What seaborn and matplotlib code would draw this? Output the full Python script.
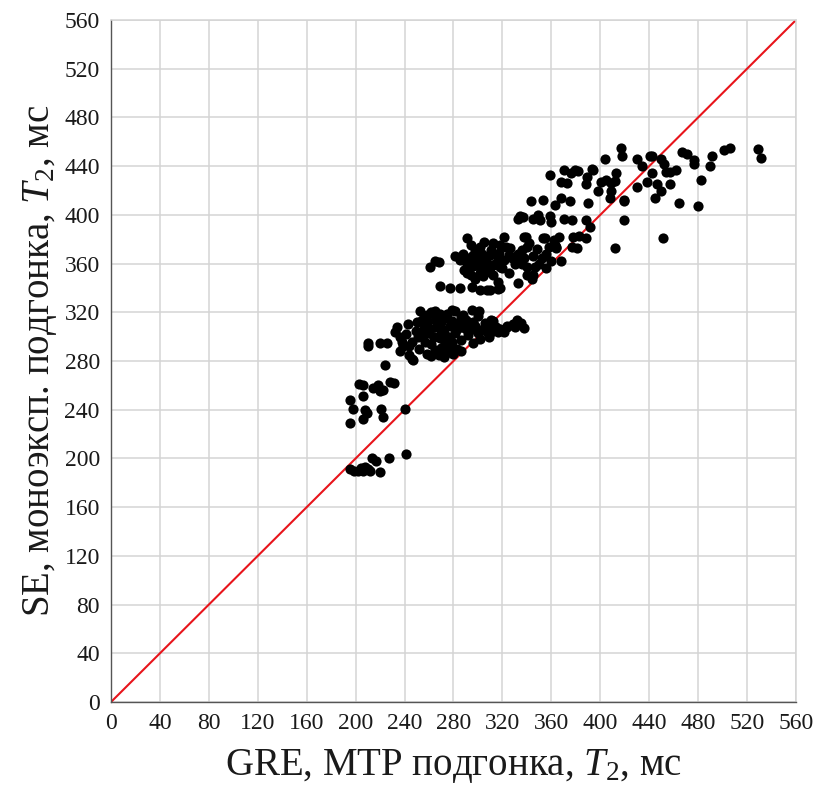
import matplotlib
matplotlib.use("Agg")
import matplotlib.pyplot as plt
from matplotlib.ticker import MultipleLocator
import numpy as np
import pandas as pd
import seaborn as sns

# T2 values (ms): GRE with MTP fit (x) vs SE mono-exponential fit (y), grouped by region
low_x = [195, 199, 204, 206, 208, 212, 213, 217, 220, 227, 241, 202, 210]
low_y = [191, 190, 192, 190, 193, 190, 200, 198, 189, 200, 204, 190, 191]

mid_low_x = [203, 206, 214, 218, 222, 228, 231, 220, 206, 195, 198, 208, 209, 206, 221, 222,
             195, 240, 224, 210, 210, 220, 226]
mid_low_y = [261, 260, 258, 260, 256, 263, 262, 255, 251, 248, 241, 240, 237, 232, 241, 234,
             229, 241, 277, 295, 292, 295, 295]

band300_x = [234, 243, 253, 238, 239, 244, 247, 250, 258, 265, 269, 261, 269, 258, 268, 274, 251,
             232, 236, 241, 246, 249, 252, 236,
             258, 262, 275, 281, 288, 295, 300, 279, 301,
             254, 265, 270, 274, 279, 284, 290, 296, 306, 312,
             256, 266, 271, 277, 283, 287, 293, 298, 305, 311, 318, 324, 330, 335, 338, 332, 324,
             255, 260, 264, 270, 276, 281, 292, 300, 309,
             257, 262, 273, 279, 286, 296,
             265, 270, 276, 283, 286,
             262, 272, 280,
             310, 316, 302, 290, 286,
             279, 246, 307, 315, 321, 329, 299, 311, 264, 272, 253, 244]
band300_y = [308, 310, 321, 296, 292, 285, 281, 312, 312, 321, 319, 306, 299, 286, 285, 289, 300,
             304, 300, 302, 296, 305, 290, 288,
             318, 320, 319, 321, 318, 322, 317, 322, 321,
             314, 314, 312, 315, 313, 311, 314, 312, 311, 313,
             307, 308, 306, 309, 306, 308, 306, 309, 307, 308, 306, 309, 308, 311, 307, 314, 308,
             301, 303, 300, 302, 300, 303, 301, 303, 300,
             296, 294, 295, 296, 297, 295,
             289, 291, 287, 290, 288,
             284, 283, 286,
             303, 304, 298, 306, 316,
             290, 282, 304, 308, 304, 310, 305, 314, 300, 303, 301, 292]

band360_x = [261, 268, 281, 291, 294, 302, 321, 323, 285, 291, 299, 304, 310, 316, 321, 325,
             302, 307, 312, 318, 294, 302, 312, 316, 269, 277, 285, 295, 302, 307, 316,
             265, 291, 339, 340, 355, 340, 345, 356, 362, 364, 330, 326, 344, 340, 333, 318, 310,
             288, 295, 298, 303, 306, 311, 314, 317, 296, 289, 310, 304, 298, 320, 325, 328,
             333, 336, 312, 305, 318, 300, 292, 308,
             334, 350, 348, 342, 336, 356, 360, 345, 338, 352, 358, 347]
band360_y = [357, 361, 366, 381, 375, 374, 382, 374, 363, 360, 363, 365, 367, 365, 363, 367,
             357, 357, 359, 357, 351, 352, 351, 345, 342, 340, 340, 341, 338, 338, 339,
             362, 352, 382, 374, 381, 357, 366, 368, 379, 373, 360, 373, 347, 351, 344, 340, 338,
             368, 366, 370, 368, 362, 371, 360, 369, 358, 355, 353, 350, 347, 356, 352, 365,
             368, 360, 377, 378, 375, 364, 364, 360,
             362, 360, 372, 377, 371, 356, 362, 351, 365, 365, 374, 357]

upper_x = [417, 418, 404, 393, 379, 370, 359, 368, 373, 389, 388, 401, 405, 409, 413, 398,
           409, 408, 419, 390, 343, 353, 363, 368, 375, 334, 345, 349, 359, 360, 377, 388,
           392, 419, 419, 338, 353, 366, 378, 383, 388, 363, 377, 381, 368, 412, 376, 382,
           333, 370, 412, 394, 337, 351, 364]
upper_y = [455, 448, 446, 438, 437, 437, 433, 427, 426, 431, 425, 427, 429, 426, 434, 420,
           420, 414, 412, 410, 411, 412, 408, 414, 411, 399, 397, 400, 399, 394, 396, 396,
           390, 396, 411, 382, 381, 382, 382, 383, 381, 375, 374, 373, 362, 373, 434, 436,
           397, 397, 428, 437, 398, 396, 374]

top_x = [467, 471, 477, 477, 491, 490, 501, 506, 529, 531, 442, 450, 452, 442, 457, 462,
         482, 430, 434, 446, 450, 457, 445, 464, 480, 451, 438, 430, 454, 441]
top_y = [452, 450, 445, 442, 448, 440, 453, 455, 454, 447, 448, 446, 442, 434, 435, 437,
         429, 446, 440, 425, 420, 425, 414, 410, 407, 381, 427, 423, 435, 448]

gre_t2 = low_x + mid_low_x + band300_x + band360_x + upper_x + top_x
se_t2 = low_y + mid_low_y + band300_y + band360_y + upper_y + top_y

axis_ticks = list(range(0, 561, 40))
identity = [0, 560]

df = pd.DataFrame({"gre": gre_t2, "se": se_t2})
line_df = pd.DataFrame({"x": identity, "y": identity})

sns.set_theme(style="white")
plt.rcParams["font.family"] = ["Liberation Serif", "DejaVu Serif"]
plt.rcParams["mathtext.fontset"] = "custom"
plt.rcParams["mathtext.rm"] = "Liberation Serif"
plt.rcParams["mathtext.it"] = "Liberation Serif:italic"

fig = plt.figure(figsize=(8.19, 7.85), dpi=100)
ax = fig.add_axes([0.1355, 0.1057, 0.8364, 0.8688])

ax.set_xlim(0, 560)
ax.set_ylim(0, 560)
ax.set_xticks(axis_ticks)
ax.set_yticks(axis_ticks)
ax.xaxis.set_minor_locator(MultipleLocator(20))
ax.yaxis.set_minor_locator(MultipleLocator(20))
ax.grid(True, which="major", color="#d4d4d4", linewidth=1.1, zorder=0)
ax.set_axisbelow(True)

sns.lineplot(data=line_df, x="x", y="y", color="#e8141b", linewidth=1.5, ax=ax, zorder=2)
sns.scatterplot(data=df, x="gre", y="se", color="black", s=54, linewidth=0, ax=ax, zorder=3)

for side in ["left", "bottom"]:
    ax.spines[side].set_color("#555555")
    ax.spines[side].set_linewidth(1.0)
for side in ["top", "right"]:
    ax.spines[side].set_color("#d4d4d4")
    ax.spines[side].set_linewidth(1.1)

ax.tick_params(axis="both", which="major", direction="out", length=5, width=1.0,
               color="#555555", labelsize=17, labelcolor="#1a1a1a", pad=3)
ax.tick_params(axis="both", which="minor", direction="out", length=4, width=1.0,
               color="#555555")

ax.set_xlabel("GRE, MTP подгонка, $T_2$, мс", fontsize=28, color="#1a1a1a", labelpad=9)
ax.set_ylabel("SE, моноэксп. подгонка, $T_2$, мс", fontsize=28, color="#1a1a1a", labelpad=4)

fig.savefig("out.png", dpi=100)
